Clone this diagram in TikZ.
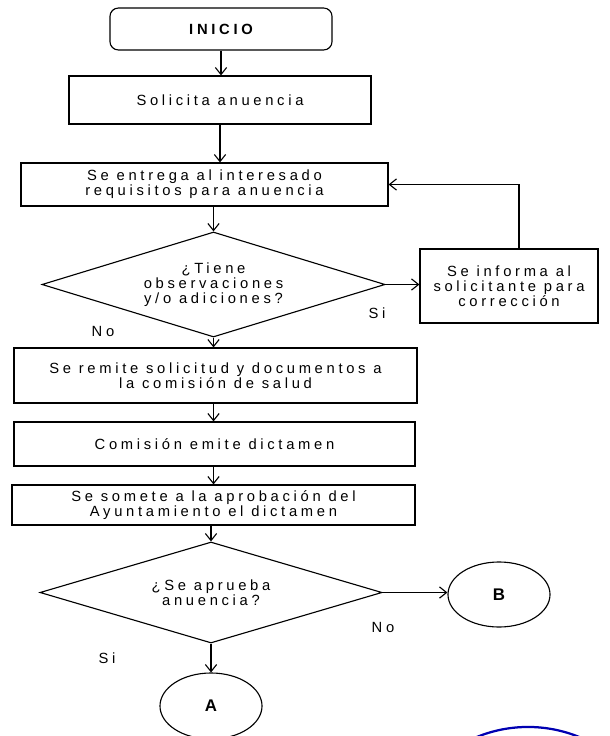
\documentclass[tikz,border=0pt]{standalone}
\usepackage{fontspec}
\setmainfont{Liberation Sans}[LetterSpace=25]
\usetikzlibrary{shapes.geometric,arrows.meta}

\begin{document}
\begin{tikzpicture}[x=0.025cm, y=-0.025cm,
    font=\fontsize{10.5}{10.6}\selectfont,
    >={Straight Barb[length=5pt,width=8pt]},
    caja/.style={draw, line width=0.8pt, align=center, inner sep=2pt},
    decision/.style={draw, diamond, line width=0.8pt, align=center, inner sep=0pt},
    conector/.style={draw, ellipse, line width=0.8pt, inner sep=0pt, font=\fontsize{12}{12}\selectfont\bfseries},
    flecha/.style={->, line width=0.8pt},
    sello/.style={draw=blue!70!black, line width=1.6pt}]
    \useasboundingbox (0, 0) rectangle (610, 736);
    %\draw[lightgray, step=50] (0, 0) grid (610, 736);
    \node[caja, rounded corners=6pt, minimum width=5.55cm, minimum height=1.05cm,
        font=\fontsize{10.5}{10.6}\selectfont\bfseries] (inicio) at (221, 29) {INICIO};
    \node[caja, minimum width=7.55cm, minimum height=1.2cm] (solicita) at (220, 100) {Solicita anuencia};
    \node[caja, minimum width=9.175cm, minimum height=1.075cm] (entrega) at (204.5, 184.5)
        {Se entrega al interesado\\requisitos para anuencia};
    \node[decision, aspect=3.27, minimum width=8.575cm, minimum height=2.625cm] (tiene) at (213.5, 284.5)
        {¿Tiene\\observaciones\\y/o adiciones?};
    \node[caja, minimum width=4.45cm, minimum height=1.85cm] (informa) at (509, 286)
        {Se informa al\\solicitante para\\corrección};
    \node[caja, minimum width=10.075cm, minimum height=1.375cm] (remite) at (215.5, 375.5)
        {Se remite solicitud y documentos a\\la comisión de salud};
    \node[caja, minimum width=10.025cm, minimum height=1.1cm] (comision) at (214.5, 444)
        {Comisión emite dictamen};
    \node[caja, minimum width=10.075cm, minimum height=1.0cm] (somete) at (213.5, 505)
        {Se somete a la aprobación del\\Ayuntamiento el dictamen};
    \node[decision, aspect=3.39, minimum width=8.55cm, minimum height=2.525cm] (aprueba) at (211, 592.5)
        {¿Se aprueba\\anuencia?};
    \node[conector, minimum width=2.55cm, minimum height=1.625cm] (b) at (499, 594.5) {B};
    \node[conector, minimum width=2.55cm, minimum height=1.65cm] (a) at (211, 706) {A};
    \node (si1) at (377, 313) {Si};
    \node (no1) at (103, 331) {No};
    \node (no2) at (383, 627) {No};
    \node (si2) at (107, 658) {Si};
    \draw[flecha] (inicio.south) -- (inicio.south |- solicita.north);
    \draw[flecha] (solicita.south) -- (solicita.south |- entrega.north);
    \draw[flecha] (tiene.north |- entrega.south) -- (tiene.north);
    \draw[flecha] (tiene.east) -- (tiene.east -| informa.west);
    \draw[flecha] ([xshift=0.25cm]informa.north) |- (entrega.east);
    \draw[flecha] (tiene.south) -- (tiene.south |- remite.north);
    \draw[flecha] (tiene.south |- remite.south) -- (tiene.south |- comision.north);
    \draw[flecha] (tiene.south |- comision.south) -- (tiene.south |- somete.north);
    \draw[flecha] (aprueba.north |- somete.south) -- (aprueba.north);
    \draw[flecha] (aprueba.east) -- (aprueba.east -| b.west);
    \draw[flecha] (aprueba.south) -- (a.north);
    \begin{scope}
        \clip (0, 0) rectangle (610, 736);
        \draw[sello] (528, 862) circle[radius=3.375cm];
    \end{scope}
\end{tikzpicture}
\end{document}
